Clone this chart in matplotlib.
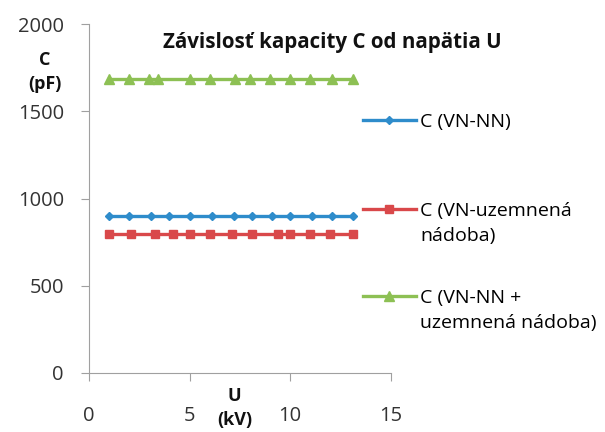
import matplotlib.pyplot as plt
from matplotlib.lines import Line2D

plt.rcParams['font.family'] = ['Open Sans', 'DejaVu Sans']

# namerané hodnoty
u_vn_nn = [1.0, 2.0, 3.1, 4.0, 5.0, 6.1, 7.2, 8.1, 9.1, 10.0, 11.1, 12.1, 13.1]
c_vn_nn = [900] * 13

u_vn_zem = [1.0, 2.1, 3.3, 4.2, 5.0, 6.0, 7.1, 8.1, 9.4, 10.0, 11.0, 12.0, 13.1]
c_vn_zem = [795] * 13

u_spolu = [1.0, 2.0, 3.0, 3.45, 5.0, 6.0, 7.25, 8.0, 9.0, 10.0, 11.0, 12.1, 13.1]
c_spolu = [1685] * 13

fig = plt.figure(figsize=(6.05, 4.32), dpi=100)
ax = fig.add_axes([0.147, 0.137, 0.499, 0.807])

l1, = ax.plot(u_vn_nn, c_vn_nn, color='#2e8ccb', marker='D', markersize=4.5, lw=2.4)
l2, = ax.plot(u_vn_zem, c_vn_zem, color='#d9484a', marker='s', markersize=6, lw=2.4)
l3, = ax.plot(u_spolu, c_spolu, color='#8dc054', marker='^', markersize=6.5, lw=2.4)

ax.set_xlim(0, 15)
ax.set_ylim(0, 2000)
ax.set_xticks([0, 5, 10, 15])
ax.set_yticks([0, 500, 1000, 1500, 2000])
for s in ['top', 'right']:
    ax.spines[s].set_visible(False)
for s in ['left', 'bottom']:
    ax.spines[s].set_color('#a0a0a0')
ax.tick_params(colors='#a0a0a0', labelcolor='#333333', labelsize=14.5, length=6)
ax.tick_params(axis='x', pad=18)
ax.tick_params(axis='y', pad=12)

fig.text(0.269, 0.889, 'Závislosť kapacity C od napätia U', ha='left', va='baseline',
         fontsize=14.8, fontweight='bold', color='#111111')
fig.text(0.074, 0.834, 'C\n(pF)', ha='center', va='center', fontsize=13,
         fontweight='bold', linespacing=1.45, color='#111111')
fig.text(0.388, 0.056, 'U\n(kV)', ha='center', va='center', fontsize=13,
         fontweight='bold', linespacing=1.45, color='#111111')

# legenda - každá séria zvlášť, druhý riadok textu ako prázdna položka
blank = Line2D([], [], linestyle='none')
kw = dict(loc='upper left', frameon=False, fontsize=14, labelspacing=0.35,
          handlelength=2.7, handletextpad=0.25, borderpad=0, borderaxespad=0)
fig.legend([l1], ['C (VN-NN)'], bbox_to_anchor=(0.6, 0.738), **kw)
fig.legend([l2, blank], ['C (VN-uzemnená', 'nádoba)'], bbox_to_anchor=(0.6, 0.532), **kw)
fig.legend([l3, blank], ['C (VN-NN +', 'uzemnená nádoba)'], bbox_to_anchor=(0.6, 0.331), **kw)

fig.savefig('out.png')
